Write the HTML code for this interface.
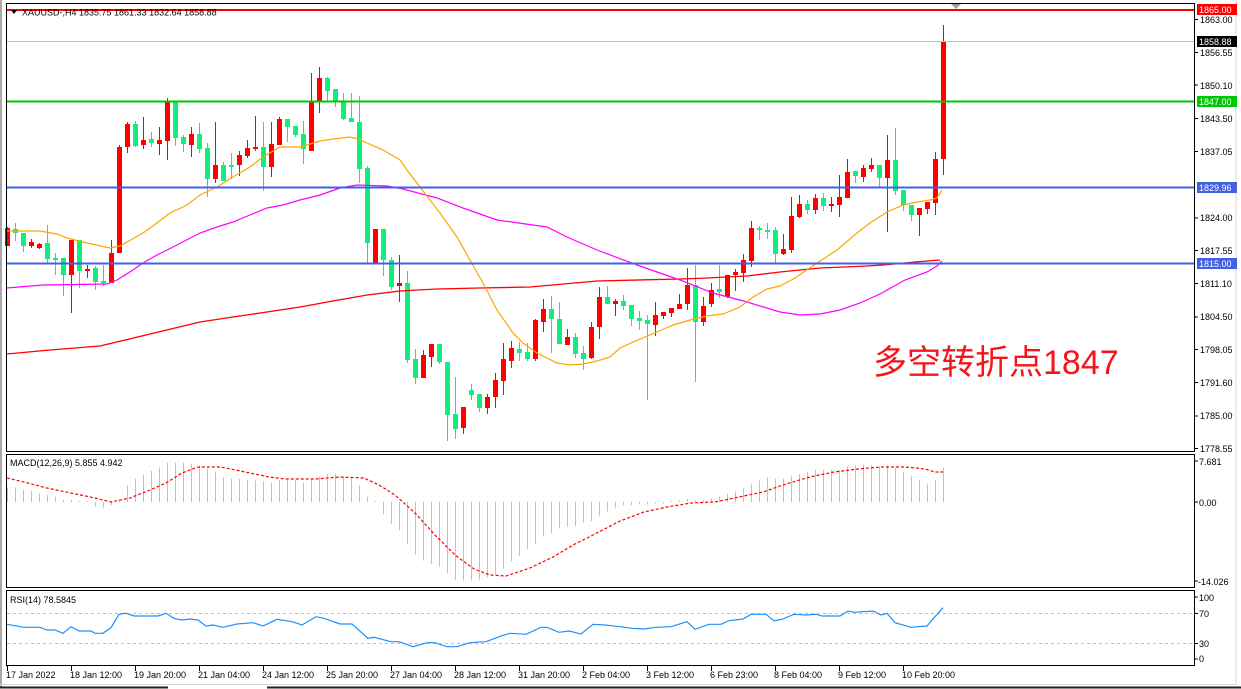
<!DOCTYPE html>
<html><head><meta charset="utf-8"><style>
html,body{margin:0;padding:0;background:#fff;}
svg{display:block;}
text{font-family:"Liberation Sans",Arial,sans-serif;font-size:9px;fill:#000;}
</style></head><body>
<svg width="1241" height="689" viewBox="0 0 1241 689" xmlns="http://www.w3.org/2000/svg">
<rect x="0" y="0" width="1241" height="689" fill="#fff"/>
<rect x="0" y="0" width="2" height="687" fill="#a8a8a8"/>
<path d="M0 687.5H168M267 687.5H1241" stroke="#222" stroke-width="2"/>
<path d="M0 684.5H1236V0" stroke="#d8d8d8" stroke-width="1" fill="none"/>

<g shape-rendering="crispEdges">
<path fill="#ff0000" d="M5 228h5V246h-5zM29 242h5V246h-5zM37 244h5V248h-5zM69 240h5V275h-5zM85 269h5V271h-5zM109 253h5V283h-5zM117 147h5V253h-5zM125 124h5V147h-5zM141 140h5V145h-5zM157 140h5V144h-5zM165 102h5V141h-5zM189 134h5V145h-5zM213 165h5V179h-5zM237 155h5V165h-5zM245 148h5V156h-5zM253 147h5V149h-5zM269 144h5V167h-5zM277 119h5V145h-5zM309 102h5V151h-5zM317 78h5V102h-5zM373 229h5V264h-5zM397 283h5V286h-5zM421 355h5V378h-5zM429 344h5V357h-5zM461 407h5V428h-5zM485 397h5V408h-5zM493 380h5V397h-5zM501 359h5V381h-5zM509 348h5V361h-5zM533 320h5V359h-5zM541 309h5V322h-5zM565 337h5V345h-5zM589 327h5V358h-5zM597 297h5V327h-5zM613 301h5V304h-5zM653 315h5V325h-5zM661 312h5V316h-5zM669 308h5V313h-5zM677 304h5V309h-5zM685 285h5V304h-5zM701 306h5V322h-5zM709 290h5V304h-5zM725 275h5V297h-5zM733 272h5V275h-5zM741 260h5V273h-5zM749 228h5V261h-5zM781 249h5V254h-5zM789 216h5V250h-5zM797 204h5V217h-5zM813 198h5V210h-5zM829 204h5V206h-5zM837 197h5V205h-5zM845 172h5V198h-5zM861 168h5V177h-5zM869 165h5V169h-5zM885 160h5V178h-5zM917 208h5V215h-5zM925 202h5V209h-5zM933 159h5V203h-5zM941 41h5V159h-5z"/>
<path stroke="#ff0000" stroke-width="1" fill="none" d="M7.5 227V246M31.5 239V248M39.5 243V249M71.5 240V313M87.5 265V278M111.5 240V283M119.5 145V253M127.5 122V153M143.5 117V149M159.5 127V155M167.5 98V160M191.5 127V157M215.5 122V183M239.5 151V176M247.5 140V158M255.5 116V151M271.5 122V177M279.5 117V145M311.5 73V151M319.5 67V113M375.5 229V264M399.5 255V302M423.5 350V378M431.5 344V367M463.5 407V434M487.5 394V414M495.5 373V408M503.5 343V395M511.5 341V368M535.5 319V361M543.5 299V332M567.5 329V345M591.5 322V359M599.5 287V339M615.5 299V316M655.5 302V336M663.5 312V319M671.5 308V317M679.5 294V309M687.5 268V310M703.5 297V326M711.5 283V307M727.5 275V298M735.5 269V291M743.5 254V282M751.5 221V267M783.5 234V255M791.5 197V253M799.5 195V218M815.5 194V214M831.5 197V212M839.5 175V217M847.5 159V198M863.5 165V182M871.5 158V172M887.5 135V232M919.5 208V236M927.5 202V214M935.5 152V215M943.5 25V175"/>
<path fill="#10ee7c" d="M13 229h5V233h-5zM21 233h5V246h-5zM45 243h5V259h-5zM53 258h5V260h-5zM61 258h5V275h-5zM77 240h5V271h-5zM93 268h5V282h-5zM101 281h5V283h-5zM133 124h5V146h-5zM149 139h5V143h-5zM173 102h5V138h-5zM181 137h5V144h-5zM197 134h5V149h-5zM205 148h5V179h-5zM221 165h5V181h-5zM229 165h5V167h-5zM261 147h5V167h-5zM285 119h5V127h-5zM293 126h5V135h-5zM301 134h5V149h-5zM325 78h5V91h-5zM333 89h5V102h-5zM341 102h5V119h-5zM349 118h5V122h-5zM357 122h5V169h-5zM365 168h5V243h-5zM381 229h5V260h-5zM389 260h5V287h-5zM405 283h5V360h-5zM413 359h5V378h-5zM437 344h5V362h-5zM445 362h5V415h-5zM453 414h5V429h-5zM469 390h5V395h-5zM477 394h5V408h-5zM517 349h5V353h-5zM525 352h5V359h-5zM549 309h5V319h-5zM557 319h5V344h-5zM573 337h5V354h-5zM581 353h5V359h-5zM605 297h5V304h-5zM621 301h5V306h-5zM629 305h5V319h-5zM637 318h5V321h-5zM645 320h5V324h-5zM693 285h5V322h-5zM717 289h5V292h-5zM757 228h5V230h-5zM765 230h5V232h-5zM773 230h5V254h-5zM805 204h5V210h-5zM821 198h5V206h-5zM853 171h5V176h-5zM877 165h5V178h-5zM893 160h5V191h-5zM901 190h5V205h-5zM909 205h5V215h-5z"/>
<path stroke="#10ee7c" stroke-width="1" fill="none" d="M15.5 223V241M23.5 233V252M47.5 225V263M55.5 253V275M63.5 258V296M79.5 240V288M95.5 266V290M103.5 265V286M135.5 121V147M151.5 132V147M175.5 102V146M183.5 135V152M199.5 123V153M207.5 143V197M223.5 162V181M231.5 153V179M263.5 122V191M287.5 119V142M295.5 126V137M303.5 121V164M327.5 77V102M335.5 89V107M343.5 93V120M351.5 93V122M359.5 96V183M367.5 166V264M383.5 229V276M391.5 257V290M407.5 271V363M415.5 349V384M439.5 344V364M447.5 362V441M455.5 377V439M471.5 384V400M479.5 394V412M519.5 342V361M527.5 343V361M551.5 296V353M559.5 302V344M575.5 333V358M583.5 346V370M607.5 286V304M623.5 295V310M631.5 305V326M639.5 311V330M647.5 315V400M695.5 265V382M719.5 265V298M759.5 226V240M767.5 223V239M775.5 227V263M807.5 200V214M823.5 193V211M855.5 171V183M879.5 165V187M895.5 128V195M903.5 190V211M911.5 205V221"/>
</g>

<polyline fill="none" stroke="#ff0000" stroke-width="1.3" points="7,354 50,350 100,346 150,334 200,322 233,317 267,312 300,307 333,301 367,295 400,291 437,289 480,288 530,287 597,281 680,279 707,278 747,276 780,272 820,268 867,266 883,265 915,262 940,260"/>
<polyline fill="none" stroke="#ff00ff" stroke-width="1.2" points="7,288 43,285 107,284 117,280 133,270 143,263 157,255 173,247 200,233 217,227 233,222 250,215 267,208 283,205 300,200 320,195 340,188 357,185 387,186 403,189 437,198 463,208 497,220 547,227 567,237 597,250 637,265 680,280 713,293 747,302 780,312 800,315 820,314 840,310 860,303 880,294 905,280 927,272 937,266 942,261"/>
<polyline fill="none" stroke="#ffa500" stroke-width="1.2" points="7,231 40,231 57,234 67,238 87,243 110,248 120,246 143,233 157,223 170,213 187,205 200,195 217,187 233,177 250,167 263,157 280,147 300,147 320,141 333,139 350,137 358,139 367,143 383,150 400,160 407,170 420,187 440,213 457,237 470,260 483,283 497,310 513,333 523,343 537,353 557,363 570,365 583,364 597,361 610,357 620,348 633,342 657,332 673,325 690,320 707,316 723,314 740,307 753,297 767,289 780,286 795,278 817,263 837,250 857,233 870,223 887,212 903,205 917,202 930,200 937,198 942,190"/>

<g shape-rendering="crispEdges">
<path d="M7 41.5H1194" stroke="#c0c0c0" stroke-width="1"/>
<path d="M7 10H1194" stroke="#ff0000" stroke-width="2"/>
<path d="M7 101.7H1194" stroke="#00c800" stroke-width="2"/>
<path d="M7 187.7H1194" stroke="#4160e4" stroke-width="2"/>
<path d="M7 263.7H1194" stroke="#4160e4" stroke-width="2"/>
</g>
<polygon points="951,4 961,4 956,9" fill="#a0a0a0"/>

<polygon points="11,10 17,10 14,14" fill="#000"/>
<text x="22" y="15.5">XAUUSD-,H4  1835.75 1861.33 1832.64 1858.88</text>

<text x="873" y="374" style="font-family:'Liberation Sans','Noto Sans CJK SC',sans-serif;font-size:34px;fill:#f5141a;">多空转折点1847</text>

<path stroke="#c0c0c0" stroke-width="1" fill="none" shape-rendering="crispEdges" d="M7.5 502V487.7M15.5 502V487.7M23.5 502V490M31.5 502V491M39.5 502V493.3M47.5 502V495M55.5 502V496.7M63.5 502V500M71.5 502V500M79.5 502V501M87.5 502V501M95.5 502V506.7M103.5 502V507.7M111.5 502V505M119.5 502V500M127.5 502V485M135.5 502V478.3M143.5 502V474.3M151.5 502V471M159.5 502V467.7M167.5 502V462.7M175.5 502V462.7M183.5 502V462.7M191.5 502V463.3M199.5 502V465.7M207.5 502V468.3M215.5 502V471.7M223.5 502V477M231.5 502V478.3M239.5 502V479M247.5 502V480M255.5 502V480.7M263.5 502V481.7M271.5 502V482.3M279.5 502V480M287.5 502V480M295.5 502V480M303.5 502V482.3M311.5 502V479.3M319.5 502V476.7M327.5 502V474M335.5 502V474M343.5 502V476.7M351.5 502V476.7M359.5 502V485M367.5 502V496.7M375.5 502V501M383.5 502V514M391.5 502V524M399.5 502V530M407.5 502V544M415.5 502V555M423.5 502V560.7M431.5 502V564M439.5 502V566.7M447.5 502V573.3M455.5 502V580M463.5 502V580.7M471.5 502V580.7M479.5 502V579.3M487.5 502V577.3M495.5 502V574M503.5 502V568.3M511.5 502V561.7M519.5 502V556M527.5 502V549M535.5 502V544M543.5 502V536.7M551.5 502V533.3M559.5 502V528.3M567.5 502V526.7M575.5 502V526M583.5 502V522.3M591.5 502V521M599.5 502V515.7M607.5 502V511.7M615.5 502V507.7M623.5 502V505.7M631.5 502V505M639.5 502V504.3M647.5 502V504.3M655.5 502V503.7M663.5 502V503.3M671.5 502V501M679.5 502V500.7M687.5 502V499M695.5 502V500M703.5 502V500M711.5 502V498.3M719.5 502V496.7M727.5 502V494M735.5 502V491.7M743.5 502V488.3M751.5 502V484.3M759.5 502V480.3M767.5 502V477.7M775.5 502V478.3M783.5 502V478.3M791.5 502V476.7M799.5 502V474M807.5 502V471.7M815.5 502V470M823.5 502V470M831.5 502V470M839.5 502V470M847.5 502V466.7M855.5 502V465.7M863.5 502V465M871.5 502V465.7M879.5 502V466.7M887.5 502V465M895.5 502V467.7M903.5 502V471.7M911.5 502V476.7M919.5 502V480M927.5 502V484.3M935.5 502V480M943.5 502V467.7"/>
<polyline fill="none" stroke="#ff0000" stroke-width="1.2" stroke-dasharray="3 2" points="7,478 24,482 47,488 71,493 95,498 111,502 130,498 150,490 166,483 182,473 198,467 221,467 245,472 269,477 285,479 316,479 340,477 364,478 379,485 395,495 415,513 435,535 455,555 474,569 490,575 506,576 530,568 553,557 573,545 593,535 620,521 644,512 667,507 691,503 715,502 739,497 763,492 786,484 810,477 834,472 858,469 881,467 905,467 925,469 935,472 943,472"/>
<text x="10" y="466">MACD(12,26,9) 5.855 4.942</text>

<path d="M7 613.5H1194M7 643.5H1194" stroke="#c0c0c0" stroke-width="1" stroke-dasharray="3 3" shape-rendering="crispEdges"/>
<polyline fill="none" stroke="#1e90ff" stroke-width="1.2" points="7,624.3 24,627.3 40,627.3 47,630 55,630 63,633.3 71,626.7 79,631 91,631 95,633.3 103,633.3 111,627.7 119,614.3 126,613.3 134,616 158,616 166,613.3 174,618.3 182,620 190,619 198,620 206,626 213,625 223,627.3 237,624 253,622.7 263,626 277,619.3 292,621.7 302,625 316,616.7 324,618.3 340,624 352,624 368,638.3 374,637.3 391,641.7 399,641.7 413,646.7 427,642.7 435,642.7 447,646.7 457,646.7 470,642.7 486,641.7 502,635.7 510,633.3 526,634.3 541,627.3 547,627.3 559,632.3 569,631 581,634 593,624.3 605,625 620,626.7 632,628.3 644,629 656,627.3 671,626.7 687,621.7 695,629.3 709,624.3 721,624.3 729,620.7 743,619 751,614.3 766,614.3 774,620.7 782,619.3 794,614.3 806,615 816,614.3 822,616 840,616 848,611 854,612.3 873,611 881,615 887,613.3 895,622.7 911,627.3 927,626 935,616.7 943,607.7"/>
<text x="10" y="603">RSI(14) 78.5845</text>

<g fill="none" stroke="#000" stroke-width="1" shape-rendering="crispEdges">
<rect x="6.5" y="3.5" width="1188" height="448"/>
<rect x="6.5" y="454.5" width="1188" height="133"/>
<rect x="6.5" y="590.5" width="1188" height="75"/>
</g>

<path stroke="#000" stroke-width="1" shape-rendering="crispEdges" d="M1194 19.7h4M1194 52.4h4M1194 85.2h4M1194 118.7h4M1194 151.5h4M1194 217.8h4M1194 250.5h4M1194 283.3h4M1194 316.8h4M1194 349.6h4M1194 382.4h4M1194 415.9h4M1194 448.7h4M1194 461h4M1194 502h4M1194 581h4M1194 597h4M1194 613.5h4M1194 643.5h4M1194 659h4"/>

<text x="1200" y="23">1863.00</text>
<text x="1200" y="56">1856.55</text>
<text x="1200" y="89">1850.10</text>
<text x="1200" y="122">1843.50</text>
<text x="1200" y="155">1837.05</text>
<text x="1200" y="221">1824.00</text>
<text x="1200" y="254">1817.55</text>
<text x="1200" y="287">1811.10</text>
<text x="1200" y="320">1804.50</text>
<text x="1200" y="353">1798.05</text>
<text x="1200" y="386">1791.60</text>
<text x="1200" y="419">1785.00</text>
<text x="1200" y="452">1778.55</text>

<rect x="1197" y="4" width="40" height="11" fill="#ff0000"/>
<text x="1199" y="13" style="fill:#fff">1865.00</text>
<rect x="1197" y="36" width="40" height="11" fill="#000"/>
<text x="1199" y="45" style="fill:#fff">1858.88</text>
<rect x="1197" y="96" width="40" height="11" fill="#00c800"/>
<text x="1199" y="105" style="fill:#fff">1847.00</text>
<rect x="1197" y="182" width="40" height="11" fill="#4160e4"/>
<text x="1199" y="191" style="fill:#fff">1829.96</text>
<rect x="1197" y="258" width="40" height="11" fill="#4160e4"/>
<text x="1199" y="267" style="fill:#fff">1815.00</text>

<text x="1199" y="465">7.681</text>
<text x="1199" y="506">0.00</text>
<text x="1198" y="585">-14.026</text>
<text x="1199" y="601">100</text>
<text x="1199" y="617">70</text>
<text x="1199" y="647">30</text>
<text x="1199" y="662">0</text>

<path stroke="#000" stroke-width="1" shape-rendering="crispEdges" d="M7.5 665V671M71.5 665V671M135.5 665V671M199.5 665V671M263.5 665V671M327.5 665V671M391.5 665V671M455.5 665V671M519.5 665V671M583.5 665V671M647.5 665V671M711.5 665V671M775.5 665V671M839.5 665V671M903.5 665V671"/>
<text x="6" y="678">17 Jan 2022</text>
<text x="70" y="678">18 Jan 12:00</text>
<text x="134" y="678">19 Jan 20:00</text>
<text x="198" y="678">21 Jan 04:00</text>
<text x="262" y="678">24 Jan 12:00</text>
<text x="326" y="678">25 Jan 20:00</text>
<text x="390" y="678">27 Jan 04:00</text>
<text x="454" y="678">28 Jan 12:00</text>
<text x="518" y="678">31 Jan 20:00</text>
<text x="582" y="678">2 Feb 04:00</text>
<text x="646" y="678">3 Feb 12:00</text>
<text x="710" y="678">6 Feb 23:00</text>
<text x="774" y="678">8 Feb 04:00</text>
<text x="838" y="678">9 Feb 12:00</text>
<text x="902" y="678">10 Feb 20:00</text>
</svg>
</body></html>
